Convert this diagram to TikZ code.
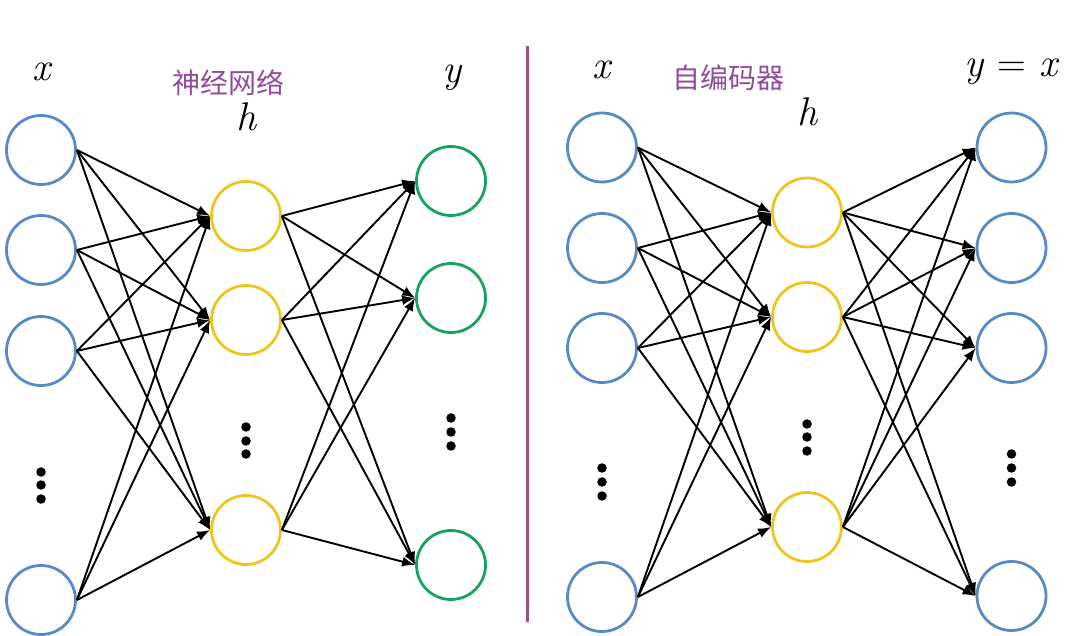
\documentclass[tikz,border=0pt]{standalone}
\usepackage{fontspec}
\newfontfamily\cjk{Noto Sans CJK SC}
\usetikzlibrary{arrows.meta}
\definecolor{nblue}{RGB}{88,138,196}
\definecolor{nyellow}{RGB}{240,196,30}
\definecolor{ngreen}{RGB}{22,163,95}
\definecolor{cnpurple}{RGB}{145,75,155}
\definecolor{divpurple}{RGB}{155,80,125}
\tikzset{
  neuron/.style={circle, minimum size=69pt, inner sep=0pt, line width=2.8pt},
  inn/.style={neuron, draw=nblue},
  hid/.style={neuron, draw=nyellow},
  outg/.style={neuron, draw=ngreen},
  conn/.style={line width=1.9pt, -{Latex[length=13pt,width=10pt]}},
  vdot/.style={circle, fill=black, inner sep=0pt, minimum size=9.5pt},
  lab/.style={font=\fontsize{40}{40}\selectfont\itshape, inner sep=0pt},
  cn/.style={font=\cjk\fontsize{28}{28}\selectfont, text=cnpurple, inner sep=0pt},
  divider/.style={line width=3pt, draw=divpurple}
}
\begin{document}
\begin{tikzpicture}[x=1pt,y=-1pt]
\useasboundingbox (0,0) rectangle (1080,636);

% ---------- left network ----------
\node[inn] (LI1) at (41,150) {};
\node[inn] (LI2) at (41,250) {};
\node[inn] (LI3) at (41,351) {};
\node[inn] (LI4) at (41,600) {};
\node[hid] (LH1) at (246,216) {};
\node[hid] (LH2) at (246,320) {};
\node[hid] (LH4) at (246,530) {};
\node[outg] (LO1) at (451,181) {};
\node[outg] (LO2) at (451,298) {};
\node[outg] (LO4) at (451,565) {};

\node[vdot] (LId1) at (41,472) {};
\node[vdot] (LId2) at (41,485) {};
\node[vdot] (LId3) at (41,499) {};
\node[vdot] (LHd1) at (246,427) {};
\node[vdot] (LHd2) at (246,441) {};
\node[vdot] (LHd3) at (246,454) {};
\node[vdot] (LOd1) at (451,418) {};
\node[vdot] (LOd2) at (451,432) {};
\node[vdot] (LOd3) at (451,446) {};

\foreach \i in {1,2,3,4}
  \foreach \h in {1,2,4}
    \draw[conn] (LI\i.east) -- (LH\h.west);
\foreach \h in {1,2,4}
  \foreach \o in {1,2,4}
    \draw[conn] (LH\h.east) -- (LO\o.west);

\node[lab] (Lx) at (41,72) {x};
\node[cn] (Lcn) at (228,83) {神经网络};
\node[lab] (Lh) at (246,117) {h};
\node[lab] (Ly) at (452,78) {y};

% ---------- divider ----------
\coordinate (dtop) at (527,46);
\coordinate (dbot) at (527,622);
\draw[divider] (dtop) -- (dbot);

% ---------- right network ----------
\node[inn] (RI1) at (602,147.5) {};
\node[inn] (RI2) at (602,248) {};
\node[inn] (RI3) at (602,348) {};
\node[inn] (RI4) at (602,597) {};
\node[hid] (RH1) at (807,212.5) {};
\node[hid] (RH2) at (807,317) {};
\node[hid] (RH4) at (807,527) {};
\node[inn] (RO1) at (1011.5,147.5) {};
\node[inn] (RO2) at (1011.5,248) {};
\node[inn] (RO3) at (1011.5,348) {};
\node[inn] (RO4) at (1011.5,596) {};

\node[vdot] (RId1) at (602,468) {};
\node[vdot] (RId2) at (602,482) {};
\node[vdot] (RId3) at (602,496) {};
\node[vdot] (RHd1) at (807,424) {};
\node[vdot] (RHd2) at (807,437) {};
\node[vdot] (RHd3) at (807,451) {};
\node[vdot] (ROd1) at (1011.5,454) {};
\node[vdot] (ROd2) at (1011.5,468) {};
\node[vdot] (ROd3) at (1011.5,482) {};

\foreach \i in {1,2,3,4}
  \foreach \h in {1,2,4}
    \draw[conn] (RI\i.east) -- (RH\h.west);
\foreach \h in {1,2,4}
  \foreach \o in {1,2,3,4}
    \draw[conn] (RH\h.east) -- (RO\o.west);

\node[lab] (Rx) at (601,70) {x};
\node[cn] (Rcn) at (728,78) {自编码器};
\node[lab] (Rh) at (807,112) {h};
\node[lab] (Ryx) at (1011,72) {y {\upshape=} x};
\end{tikzpicture}
\end{document}
